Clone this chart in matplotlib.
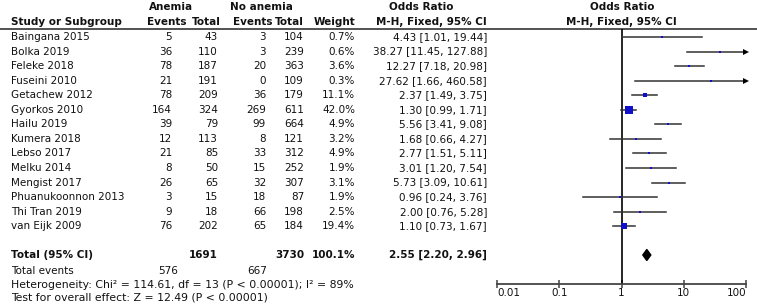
import matplotlib
matplotlib.use("Agg")
import matplotlib.pyplot as plt
import numpy as np

studies = ["Baingana 2015", "Bolka 2019", "Feleke 2018", "Fuseini 2010", "Getachew 2012",
           "Gyorkos 2010", "Hailu 2019", "Kumera 2018", "Lebso 2017", "Melku 2014",
           "Mengist 2017", "Phuanukoonnon 2013", "Thi Tran 2019", "van Eijk 2009"]
anemia_events = [5, 36, 78, 21, 78, 164, 39, 12, 21, 8, 26, 3, 9, 76]
anemia_total = [43, 110, 187, 191, 209, 324, 79, 113, 85, 50, 65, 15, 18, 202]
noanemia_events = [3, 3, 20, 0, 36, 269, 99, 8, 33, 15, 32, 18, 66, 65]
noanemia_total = [104, 239, 363, 109, 179, 611, 664, 121, 312, 252, 307, 87, 198, 184]
weights = [0.7, 0.6, 3.6, 0.3, 11.1, 42.0, 4.9, 3.2, 4.9, 1.9, 3.1, 1.9, 2.5, 19.4]
odds = [4.43, 38.27, 12.27, 27.62, 2.37, 1.30, 5.56, 1.68, 2.77, 3.01, 5.73, 0.96, 2.00, 1.10]
ci_low = [1.01, 11.45, 7.18, 1.66, 1.49, 0.99, 3.41, 0.66, 1.51, 1.20, 3.09, 0.24, 0.76, 0.73]
ci_high = [19.44, 127.88, 20.98, 460.58, 3.75, 1.71, 9.08, 4.27, 5.11, 7.54, 10.61, 3.76, 5.28, 1.67]
total_anemia = 1691
total_noanemia = 3730
total_events_anemia = 576
total_events_noanemia = 667
pooled = (2.55, 2.20, 2.96)
ticks = [0.01, 0.1, 1, 10, 100]
tick_labels = ["0.01", "0.1", "1", "10", "100"]

W, H = 757, 307
fig = plt.figure(figsize=(W / 100, H / 100), dpi=100)
plt.rcParams['font.family'] = ['DejaVu Sans']

ROW0, ROWH = 37.0, 14.55

tax = fig.add_axes([0, 0, 1, 1])
tax.set_xlim(0, W)
tax.set_ylim((H - ROW0) / ROWH, -ROW0 / ROWH)
tax.axis('off')

fs = 7.5
def t(x, r, s, ha='left', bold=False, size=fs, **kw):
    tax.text(x, r, s, ha=ha, va='center', fontsize=size,
             fontweight='bold' if bold else 'normal', color='#111111', **kw)

def rowp(y):
    return (y - ROW0) / ROWH

# headers
t(171, rowp(7), "Anemia", ha='center', bold=True)
t(261, rowp(7), "No anemia", ha='center', bold=True)
t(421, rowp(7), "Odds Ratio", ha='center', bold=True)
t(622, rowp(7), "Odds Ratio", ha='center', bold=True)
t(11, rowp(22), "Study or Subgroup", bold=True)
t(187, rowp(22), "Events", ha='right', bold=True)
t(221, rowp(22), "Total", ha='right', bold=True)
t(272, rowp(22), "Events", ha='right', bold=True)
t(304, rowp(22), "Total", ha='right', bold=True)
t(355, rowp(22), "Weight", ha='right', bold=True)
t(487, rowp(22), "M-H, Fixed, 95% CI", ha='right', bold=True)
t(621, rowp(22), "M-H, Fixed, 95% CI", ha='center', bold=True)

tax.plot([0, W], [rowp(29), rowp(29)], color='#444444', lw=1.3, solid_capstyle='butt')

for i, name in enumerate(studies):
    t(11, i, name)
    t(172, i, str(anemia_events[i]), ha='right')
    t(218, i, str(anemia_total[i]), ha='right')
    t(266, i, str(noanemia_events[i]), ha='right')
    t(304, i, str(noanemia_total[i]), ha='right')
    t(355, i, f"{weights[i]:.1f}%", ha='right')
    t(487, i, f"{odds[i]:.2f} [{ci_low[i]:.2f}, {ci_high[i]:.2f}]", ha='right')

tr = rowp(255)
t(11, tr, "Total (95% CI)", bold=True)
t(218, tr, str(total_anemia), ha='right', bold=True)
t(304, tr, str(total_noanemia), ha='right', bold=True)
t(355, tr, f"{sum(weights):.1f}%", ha='right', bold=True)
t(487, tr, f"{pooled[0]:.2f} [{pooled[1]:.2f}, {pooled[2]:.2f}]", ha='right', bold=True)
t(11, rowp(271.5), "Total events")
t(178, rowp(271.5), str(total_events_anemia), ha='right')
t(267, rowp(271.5), str(total_events_noanemia), ha='right')
t(11, rowp(284.5), "Heterogeneity: Chi² = 114.61, df = 13 (P < 0.00001); I² = 89%", size=7.8)
t(11, rowp(297), "Test for overall effect: Z = 12.49 (P < 0.00001)", size=7.8)

# forest axes
x0, x1 = 497, 746
ytop, ybot = 29, 284
fax = fig.add_axes([x0 / W, 1 - ybot / H, (x1 - x0) / W, (ybot - ytop) / H])
fax.set_xscale('log')
fax.set_xlim(ticks[0], ticks[-1])
fax.set_ylim(rowp(ybot), rowp(ytop))
fax.patch.set_alpha(0)
for s in ['top', 'right', 'left']:
    fax.spines[s].set_visible(False)
fax.spines['bottom'].set_color('#444444')
fax.spines['bottom'].set_linewidth(1.3)
fax.set_yticks([])
fax.set_xticks(ticks)
fax.set_xticklabels(tick_labels)
fax.minorticks_off()
fax.tick_params(axis='x', direction='inout', length=6, width=1.1, color='#444444',
                labelsize=fs, pad=0, labelcolor='#111111')
labs = fax.get_xticklabels()
labs[0].set_ha('left')
labs[-1].set_ha('right')

fax.axvline(1, color='black', lw=1.2, zorder=2)

for i in range(len(studies)):
    lo, hi = ci_low[i], ci_high[i]
    hi_c = min(hi, ticks[-1])
    lo_c = max(lo, ticks[0])
    fax.plot([lo_c, hi_c], [i, i], color='#333333', lw=1.1, zorder=3, clip_on=False)
    if hi > ticks[-1]:
        fax.plot([hi_c], [i], marker='>', color='black', markersize=5, zorder=4,
                 clip_on=False, markeredgewidth=0)
    side = max(2.7, 1.2 * np.sqrt(weights[i]))
    fax.plot([odds[i]], [i], marker='s', color='#1010CC', markersize=side * 0.72,
             markeredgewidth=0, zorder=5)

dh = 0.38
fax.fill([pooled[1], pooled[0], pooled[2], pooled[0]],
         [tr, tr - dh, tr, tr + dh], color='black', zorder=5)

fig.savefig("out.png", dpi=100)
